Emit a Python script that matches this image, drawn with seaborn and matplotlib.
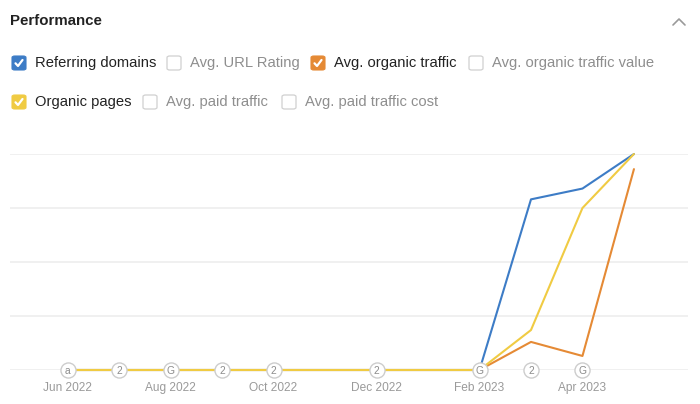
import matplotlib
matplotlib.use("Agg")
import matplotlib.pyplot as plt
import seaborn as sns
import pandas as pd
from matplotlib.patches import FancyBboxPatch
from matplotlib.lines import Line2D

# ---- data ----
months = ["Jun 2022", "Jul 2022", "Aug 2022", "Sep 2022", "Oct 2022", "Nov 2022",
          "Dec 2022", "Jan 2023", "Feb 2023", "Mar 2023", "Apr 2023", "May 2023"]
referring_domains = [0, 0, 0, 0, 0, 0, 0, 0, 0, 79, 84, 100]
avg_organic_traffic = [0, 0, 0, 0, 0, 0, 0, 0, 0, 13, 6.5, 93]
organic_pages = [0, 0, 0, 0, 0, 0, 0, 0, 0, 18.5, 75, 100]
tick_labels = ["Jun 2022", "Aug 2022", "Oct 2022", "Dec 2022", "Feb 2023", "Apr 2023"]
annot_months = ["Jun 2022", "Jul 2022", "Aug 2022", "Sep 2022", "Oct 2022",
                "Dec 2022", "Feb 2023", "Mar 2023", "Apr 2023"]
annot_labels = ["a", "2", "G", "2", "2", "2", "G", "2", "G"]
legend_row1 = [("Referring domains", True), ("Avg. URL Rating", False),
               ("Avg. organic traffic", True), ("Avg. organic traffic value", False)]
legend_row2 = [("Organic pages", True), ("Avg. paid traffic", False),
               ("Avg. paid traffic cost", False)]

BLUE = "#3d7cc6"
ORANGE = "#e58a35"
YELLOW = "#f0cb43"
palette = {"Referring domains": BLUE, "Avg. organic traffic": ORANGE, "Organic pages": YELLOW}

idx = list(range(len(months)))
df = pd.concat([
    pd.DataFrame({"x": idx, "value": referring_domains, "series": "Referring domains"}),
    pd.DataFrame({"x": idx, "value": avg_organic_traffic, "series": "Avg. organic traffic"}),
    pd.DataFrame({"x": idx, "value": organic_pages, "series": "Organic pages"}),
])

sns.set_theme(style="white")
plt.rcParams["font.family"] = ["Liberation Sans", "DejaVu Sans"]

W, H = 700, 404
fig = plt.figure(figsize=(W / 100, H / 100), dpi=100)
fig.patch.set_facecolor("white")

def fx(x):
    return x / W

def fy(y):
    return 1 - y / H

ax = fig.add_axes([fx(10), fy(370), (688 - 10) / W, (370 - 154) / H])
ax.set_facecolor("white")

sns.lineplot(data=df, x="x", y="value", hue="series", palette=palette,
             hue_order=["Referring domains", "Avg. organic traffic", "Organic pages"],
             linewidth=1.5, legend=False, ax=ax, zorder=3)
for ln in ax.lines:
    ln.set_clip_on(False)
    ln.set_solid_joinstyle("round")

ax.set_ylim(0, 100)
ax.set_xlim(-1.12, 12.05)
for v in [0, 25, 50, 75, 100]:
    ax.axhline(v, color="#ececec", lw=1.1, zorder=1)
ax.set_yticks([])
ax.set_xticks([months.index(t) for t in tick_labels])
ax.set_xticklabels(tick_labels, color="#9a9a9a", fontsize=8.6)
ax.tick_params(axis="x", length=0, pad=8.5)
ax.set_xlabel("")
ax.set_ylabel("")
for s in ax.spines.values():
    s.set_visible(False)

# annotation bubbles
ann_x = [months.index(m) for m in annot_months]
ax.scatter(ann_x, [0] * len(ann_x), s=118, facecolor="white", edgecolor="#cdcdcd",
           linewidth=1.0, zorder=5, clip_on=False)
for x, lab in zip(ann_x, annot_labels):
    ax.text(x, 0, lab, ha="center", va="center_baseline", fontsize=7.4, color="#8c8c8c",
            zorder=6, clip_on=False)

# title and chevron
fig.text(fx(10), fy(21), "Performance", fontsize=10.8, fontweight="bold",
         color="#222222", va="center", ha="left")
fig.add_artist(Line2D([fx(673), fx(679), fx(685)], [fy(25), fy(19), fy(25)],
                      color="#9a9a9a", lw=1.2, transform=fig.transFigure))

# legend checkboxes
def checkbox(x, y, color, checked):
    size = 14
    if checked:
        box = FancyBboxPatch((fx(x), fy(y + size / 2)), size / W, size / H,
                             boxstyle="round,pad=0,rounding_size=0.004",
                             transform=fig.transFigure, facecolor=color,
                             edgecolor=color, lw=0.8)
        fig.add_artist(box)
        fig.add_artist(Line2D([fx(x + 3.5), fx(x + 6), fx(x + 10.5)],
                              [fy(y + 0.3), fy(y + 3), fy(y - 3)],
                              color="white", lw=1.6, transform=fig.transFigure,
                              solid_capstyle="round", solid_joinstyle="round"))
    else:
        box = FancyBboxPatch((fx(x), fy(y + size / 2)), size / W, size / H,
                             boxstyle="round,pad=0,rounding_size=0.004",
                             transform=fig.transFigure, facecolor="white",
                             edgecolor="#d0d0d0", lw=0.9)
        fig.add_artist(box)

row1_x = [12, 167, 311, 469]
row1_colors = [BLUE, None, ORANGE, None]
for (label, checked), x, c in zip(legend_row1, row1_x, row1_colors):
    checkbox(x, 63, c, checked)
    fig.text(fx(x + 23), fy(63), label, fontsize=10.6,
             color="#222222" if checked else "#8e8e8e", va="center", ha="left")

row2_x = [12, 143, 282]
row2_colors = [YELLOW, None, None]
for (label, checked), x, c in zip(legend_row2, row2_x, row2_colors):
    checkbox(x, 102, c, checked)
    fig.text(fx(x + 23), fy(102), label, fontsize=10.6,
             color="#222222" if checked else "#8e8e8e", va="center", ha="left")

fig.savefig("out.png", dpi=100, facecolor="white")
